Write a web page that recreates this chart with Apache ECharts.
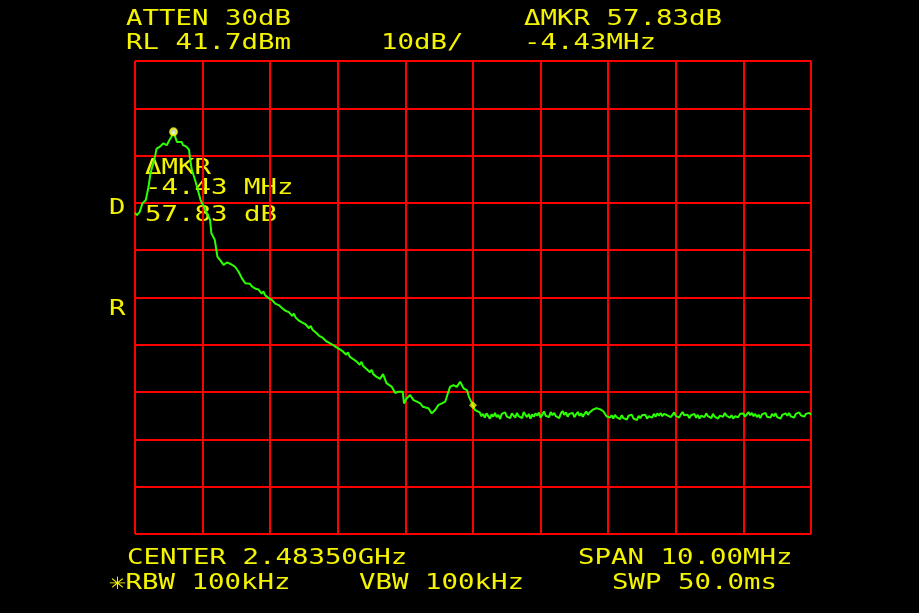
<!DOCTYPE html>
<html>
<head>
<meta charset="utf-8">
<script src="https://cdn.jsdelivr.net/npm/echarts@6/dist/echarts.min.js"></script>
<style>
  html, body { margin: 0; padding: 0; background: #000; }
  #chart { width: 919px; height: 613px; }
</style>
</head>
<body>
<div id="chart"></div>
<script>
// Sweep span: offset from centre frequency, MHz (10 divisions of 1 MHz)
const spanMHz = [-5, 5];
const freqStepMHz = 1;
// Vertical scale: dB relative to the reference level (RL), 10 dB/div
const levelRangeDb = [-100, 0];
const levelStepDb = 10;

// Main lobe and upper skirt: [frequency offset MHz, level dB re RL]
const traceLobe = [
  [-5.00,-32.1],[-4.97,-32.6],[-4.93,-31.9],[-4.89,-30.1],[-4.84,-29.4],[-4.80,-26.6],
  [-4.77,-23.7],[-4.73,-21.6],[-4.70,-19.9],[-4.68,-18.5],[-4.63,-18.1],[-4.58,-17.4],
  [-4.53,-17.8],[-4.49,-16.7],[-4.46,-16.0],[-4.43,-15.0],[-4.38,-17.1],[-4.31,-17.1],
  [-4.29,-17.8],[-4.24,-18.1],[-4.20,-18.8],[-4.19,-20.2],[-4.16,-23.0],[-4.11,-25.2],
  [-4.06,-27.8],[-4.03,-29.4],[-3.96,-31.5],[-3.89,-33.6],[-3.87,-36.4],[-3.82,-37.8],
  [-3.80,-39.6],[-3.78,-41.4],[-3.74,-42.1],[-3.69,-43.1],[-3.64,-42.6],[-3.60,-42.8],
  [-3.52,-43.5],[-3.47,-44.5],[-3.42,-45.9],[-3.37,-47.0]
];

// Sloping skirt down towards the carrier edge
const traceSkirt = [
  [-3.300,-47.1],[-3.275,-47.6],[-3.250,-47.3],[-3.225,-48.1],[-3.200,-47.9],[-3.175,-48.3],
  [-3.150,-48.6],[-3.125,-49.2],[-3.100,-48.7],[-3.075,-49.5],[-3.050,-49.3],[-3.025,-50.1],
  [-3.000,-50.0],[-2.975,-50.5],[-2.950,-50.4],[-2.925,-51.3],[-2.900,-50.9],[-2.875,-51.6],
  [-2.850,-51.7],[-2.825,-52.2],[-2.800,-51.9],[-2.775,-52.8],[-2.750,-52.6],[-2.725,-53.1],
  [-2.700,-53.2],[-2.675,-53.9],[-2.650,-53.4],[-2.625,-54.2],[-2.600,-54.1],[-2.575,-54.9],
  [-2.550,-54.5],[-2.525,-55.3],[-2.500,-55.2],[-2.475,-55.7],[-2.450,-55.7],[-2.425,-56.5],
  [-2.400,-56.0],[-2.375,-56.8],[-2.350,-56.8],[-2.325,-57.4],[-2.300,-57.3],[-2.275,-58.1],
  [-2.250,-57.7],[-2.225,-58.5],[-2.200,-58.4],[-2.175,-59.2],[-2.150,-58.8],[-2.125,-59.6],
  [-2.100,-59.5],[-2.075,-60.0],[-2.050,-59.9],[-2.025,-60.5],[-2.000,-60.1],[-1.975,-60.9],
  [-1.950,-60.8],[-1.925,-61.4],[-1.900,-61.3],[-1.875,-62.1],[-1.850,-61.6],[-1.825,-62.5],
  [-1.800,-62.1],[-1.775,-63.0],[-1.750,-62.9],[-1.725,-63.5],[-1.700,-63.4],[-1.675,-64.2],
  [-1.650,-63.6],[-1.625,-64.5],[-1.600,-64.5],[-1.575,-65.1],[-1.550,-65.0],[-1.525,-65.8],
  [-1.500,-65.3],[-1.475,-66.2],[-1.450,-66.0],[-1.425,-66.8],[-1.400,-66.4],[-1.375,-67.2]
];

// Shoulder and carrier edge around the centre frequency
const traceEdge = [
  [-1.33,-66.2],[-1.28,-68.1],[-1.20,-68.9],[-1.15,-70.2],[-1.11,-69.9],[-1.04,-69.9],
  [-1.02,-72.4],[-0.98,-71.3],[-0.93,-70.6],[-0.88,-71.7],[-0.83,-72.0],[-0.78,-72.4],
  [-0.74,-73.1],[-0.66,-73.4],[-0.61,-74.5],[-0.56,-73.8],[-0.51,-72.7],[-0.46,-72.4],
  [-0.41,-72.0],[-0.37,-70.2],[-0.34,-68.9],[-0.29,-68.5],[-0.24,-68.9],[-0.19,-67.8],
  [-0.14,-69.2],[-0.09,-69.6],[-0.06,-71.0],[0.00,-72.8],[0.03,-73.8]
];

// Noise floor above the centre frequency
const traceFloor = [
  [0.100,-74.3],[0.125,-75.1],[0.150,-74.6],[0.175,-75.4],[0.200,-74.5],[0.225,-74.9],
  [0.250,-75.6],[0.275,-74.7],[0.300,-75.2],[0.325,-74.4],[0.350,-75.3],[0.375,-74.8],
  [0.400,-75.7],[0.425,-74.6],[0.450,-75.0],[0.475,-74.3],[0.500,-75.2],[0.525,-74.9],
  [0.550,-75.5],[0.575,-74.5],[0.600,-74.9],[0.625,-75.4],[0.650,-74.4],[0.675,-75.1],
  [0.700,-74.7],[0.725,-75.5],[0.750,-74.2],[0.775,-74.8],[0.800,-75.3],[0.825,-74.6],
  [0.850,-75.6],[0.875,-74.7],[0.900,-75.2],[0.925,-74.5],[0.950,-75.0],[0.975,-74.3],
  [1.000,-75.4],[1.025,-74.8],[1.050,-74.1],[1.075,-75.0],[1.100,-74.6],[1.125,-75.3],
  [1.150,-74.2],[1.175,-74.9],[1.200,-74.4],[1.225,-75.1],[1.250,-74.7],[1.275,-75.5],
  [1.300,-74.5],[1.325,-74.0],[1.350,-74.8],[1.375,-74.3],[1.400,-75.2],[1.425,-74.6],
  [1.450,-75.0],[1.475,-74.4],[1.500,-75.3],[1.525,-74.7],[1.550,-74.2],[1.575,-75.0],
  [1.600,-74.5],[1.625,-75.2],[1.650,-74.6],[1.675,-74.1],[1.700,-74.8],[1.725,-74.3],
  [1.750,-74.0],[1.775,-73.7],[1.800,-74.1],[1.825,-73.4],[1.850,-73.0],[1.875,-73.6],
  [1.900,-73.2],[1.925,-74.0],[1.950,-74.4],[1.975,-75.1],[2.000,-74.7],[2.025,-75.4],
  [2.050,-74.9],[2.075,-75.6],[2.100,-74.8],[2.125,-75.3],[2.150,-75.0],[2.175,-75.7],
  [2.200,-74.9],[2.225,-75.5],[2.250,-75.1],[2.275,-75.8],[2.300,-75.0],[2.325,-75.4],
  [2.350,-74.8],[2.375,-75.6],[2.400,-75.2],[2.425,-75.9],[2.450,-75.0],[2.475,-75.5],
  [2.500,-74.9],[2.525,-75.3],[2.550,-74.8],[2.575,-75.6],[2.600,-75.1],[2.625,-74.7],
  [2.650,-75.4],[2.675,-74.6],[2.700,-75.2],[2.725,-74.5],[2.750,-75.0],[2.775,-74.4],
  [2.800,-75.1],[2.825,-74.6],[2.850,-74.2],[2.875,-74.9],[2.900,-74.5],[2.925,-75.3],
  [2.950,-74.8],[2.975,-74.3],[3.000,-75.0],[3.025,-74.6],[3.050,-75.4],[3.075,-74.7],
  [3.100,-74.2],[3.125,-74.9],[3.150,-75.3],[3.175,-74.8],[3.200,-75.5],[3.225,-74.9],
  [3.250,-75.2],[3.275,-74.6],[3.300,-75.4],[3.325,-74.8],[3.350,-75.6],[3.375,-75.0],
  [3.400,-74.7],[3.425,-75.3],[3.450,-74.5],[3.475,-75.1],[3.500,-74.8],[3.525,-75.5],
  [3.550,-74.6],[3.575,-75.2],[3.600,-74.9],[3.625,-75.6],[3.650,-75.0],[3.675,-74.6],
  [3.700,-75.2],[3.725,-74.4],[3.750,-75.0],[3.775,-74.7],[3.800,-75.4],[3.825,-74.9],
  [3.850,-75.6],[3.875,-75.1],[3.900,-74.8],[3.925,-75.3],[3.950,-74.6],[3.975,-75.0],
  [4.000,-74.5],[4.025,-75.2],[4.050,-74.7],[4.075,-74.2],[4.100,-74.9],[4.125,-74.4],
  [4.150,-75.1],[4.175,-74.6],[4.200,-75.3],[4.225,-74.8],[4.250,-75.5],[4.275,-74.7],
  [4.300,-75.0],[4.325,-74.4],[4.350,-75.2],[4.375,-74.8],[4.400,-75.4],[4.425,-74.6],
  [4.450,-75.1],[4.475,-74.5],[4.500,-75.3],[4.525,-74.9],[4.550,-75.6],[4.575,-74.8],
  [4.600,-75.2],[4.625,-74.5],[4.650,-75.0],[4.675,-74.4],[4.700,-75.1],[4.725,-74.7],
  [4.750,-75.4],[4.775,-74.6],[4.800,-75.0],[4.825,-74.3],[4.850,-74.9],[4.875,-74.5],
  [4.900,-75.2],[4.925,-74.6],[4.950,-75.0],[4.975,-74.4],[5.000,-74.8]
];

const trace = traceLobe.concat(traceSkirt, traceEdge, traceFloor);

// Reference marker and delta readout
const refMarker = [0.00, -72.8];
const deltaMHz = -4.43;
const deltaDb = 57.83;
const deltaMarker = [refMarker[0] + deltaMHz, refMarker[1] + deltaDb];

// Annotation text
const headerTop = ['ATTEN 30dB', '\u0394MKR 57.83dB'];
const headerBottom = ['RL 41.7dBm', '10dB/', '-4.43MHz'];
const footerTop = ['CENTER 2.48350GHz', 'SPAN 10.00MHz'];
const footerBottom = ['\u2733RBW 100kHz', 'VBW 100kHz', 'SWP 50.0ms'];
const markerReadout = ['\u0394MKR', '-4.43 MHz', '57.83 dB'];
const sideLabels = ['D', 'R'];

const YELLOW = '#f4f400';
const RED = '#ff0000';
const GREEN = '#2cff00';
const FONT = '"DejaVu Sans Mono", "Liberation Mono", monospace';

function label(text, x, y) {
  return {
    type: 'text', x: x, y: y, scaleX: 1.245, scaleY: 1,
    silent: true,
    style: {
      text: text, x: 0, y: 0, fill: YELLOW,
      font: '22px ' + FONT,
      textAlign: 'left', textVerticalAlign: 'middle'
    }
  };
}

const chart = echarts.init(document.getElementById('chart'), null, { renderer: 'canvas' });

const gridLine = { show: true, lineStyle: { color: RED, width: 2 } };

chart.setOption({
  backgroundColor: '#000',
  animation: false,
  grid: { left: 135, top: 61, width: 676, height: 473, show: false },
  xAxis: {
    type: 'value', min: spanMHz[0], max: spanMHz[1], interval: freqStepMHz,
    axisLine: { show: false }, axisTick: { show: false }, axisLabel: { show: false },
    splitLine: gridLine
  },
  yAxis: {
    type: 'value', min: levelRangeDb[0], max: levelRangeDb[1], interval: levelStepDb,
    axisLine: { show: false }, axisTick: { show: false }, axisLabel: { show: false },
    splitLine: gridLine
  },
  series: [
    {
      type: 'line', data: trace, showSymbol: false, smooth: false,
      lineStyle: { color: GREEN, width: 2 }, z: 3
    },
    {
      type: 'scatter', data: [refMarker], symbol: 'diamond', symbolSize: 8,
      itemStyle: { color: YELLOW }, z: 4
    },
    {
      type: 'scatter', data: [deltaMarker], symbol: 'emptyCircle', symbolSize: 7,
      itemStyle: { color: YELLOW, borderColor: YELLOW, borderWidth: 1.5 }, z: 4
    }
  ],
  graphic: [
    label(headerTop[0], 126, 19),
    label(headerTop[1], 524, 19),
    label(headerBottom[0], 126, 43.5),
    label(headerBottom[1], 381, 43.5),
    label(headerBottom[2], 524, 43.5),
    label(footerTop[0], 127, 558.5),
    label(footerTop[1], 578, 558.5),
    label(footerBottom[0], 109, 583),
    label(footerBottom[1], 359, 583),
    label(footerBottom[2], 612, 583),
    label(markerReadout[0], 145, 168),
    label(markerReadout[1], 145, 188.5),
    label(markerReadout[2], 145, 215),
    label(sideLabels[0], 109, 208.5),
    label(sideLabels[1], 109, 309.5)
  ]
});
</script>
</body>
</html>
